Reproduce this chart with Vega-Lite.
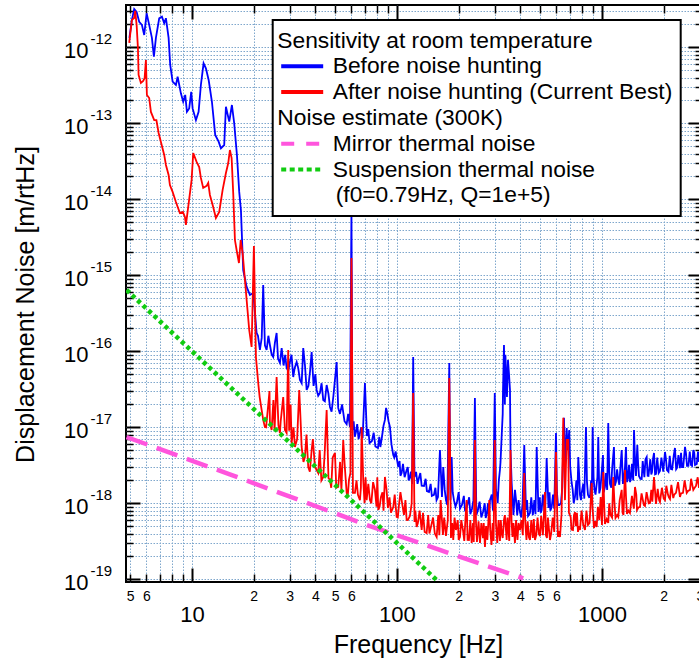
{
  "$schema": "https://vega.github.io/schema/vega-lite/v6.json",
  "width": 576,
  "height": 577,
  "autosize": "none",
  "padding": {"left": 126, "top": 5, "right": -3, "bottom": 80},
  "usermeta": {"embedOptions": {"actions": false}},
  "config": {
    "font": "Liberation Sans",
    "view": {"stroke": "black", "strokeWidth": 2},
    "axis": {"labelFont": "Liberation Sans", "titleFont": "Liberation Sans", "labelColor": "black", "titleColor": "black", "titleFontWeight": "normal"},
    "legend": {"strokeWidth": 2}
  },
  "datasets": {
    "before": [
      {"f":4.956,"v":1.33e-12},{"f":5.097,"v":2.29e-12},{"f":5.23,"v":3.19e-12},{"f":5.374,"v":2.91e-12},{"f":5.532,"v":2.17e-12},{"f":5.702,"v":1.97e-12},{"f":5.852,"v":1.45e-12},{"f":6.012,"v":2.8e-12},{"f":6.189,"v":1.97e-12},{"f":6.381,"v":1.33e-12},{"f":6.525,"v":7.52e-13},{"f":6.674,"v":1.33e-12},{"f":6.926,"v":2.41e-12},{"f":7.14,"v":2.53e-12},{"f":7.327,"v":2.07e-12},{"f":7.468,"v":2.41e-12},{"f":7.697,"v":1.33e-12},{"f":7.837,"v":5.85e-13},{"f":8.052,"v":3.53e-13},{"f":8.356,"v":3.19e-13},{"f":8.517,"v":4.1e-13},{"f":8.836,"v":2.48e-13},{"f":9.067,"v":1.92e-13},{"f":9.276,"v":2.36e-13},{"f":9.454,"v":1.42e-13},{"f":9.701,"v":1.57e-13},{"f":9.922,"v":2.6e-13},{"f":10.08,"v":1.57e-13},{"f":10.46,"v":1.1e-13},{"f":10.78,"v":1.42e-13},{"f":11.06,"v":3.19e-13},{"f":11.4,"v":6.16e-13},{"f":11.7,"v":5.29e-13},{"f":12.07,"v":3.71e-13},{"f":12.52,"v":1.92e-13},{"f":12.99,"v":7.02e-14},{"f":13.5,"v":5.73e-14},{"f":13.85,"v":4.69e-14},{"f":14.37,"v":5.18e-14},{"f":14.65,"v":1.65e-13},{"f":15.21,"v":1.05e-13},{"f":15.67,"v":1.74e-13},{"f":16.08,"v":1.0e-13},{"f":16.58,"v":3.83e-14},{"f":17.01,"v":1.25e-14},{"f":17.34,"v":7.23e-15},{"f":17.79,"v":1.17e-15},{"f":18.49,"v":7.02e-16},{"f":19.18,"v":5.51e-16},{"f":19.91,"v":5.85e-16},{"f":20.68,"v":1.74e-16},{"f":21.0,"v":1.6e-16},{"f":21.46,"v":1.04e-16},{"f":21.9,"v":1.5e-16},{"f":22.27,"v":7.45e-16},{"f":22.7,"v":1.2e-16},{"f":23.14,"v":1.04e-16},{"f":23.6,"v":1.6e-16},{"f":24.01,"v":1.21e-16},{"f":24.5,"v":9e-17},{"f":24.92,"v":8.41e-17},{"f":25.4,"v":1.3e-16},{"f":25.89,"v":1.74e-16},{"f":26.3,"v":8e-17},{"f":26.87,"v":7.02e-17},{"f":27.4,"v":1.1e-16},{"f":28.0,"v":6.5e-17},{"f":28.5,"v":9e-17},{"f":28.97,"v":6.03e-17},{"f":29.5,"v":5.5e-17},{"f":30.06,"v":7.23e-17},{"f":30.6,"v":9e-17},{"f":31.2,"v":4.59e-17},{"f":31.7,"v":6e-17},{"f":32.42,"v":7.23e-17},{"f":33.0,"v":6e-17},{"f":33.64,"v":4.19e-17},{"f":34.3,"v":3.8e-17},{"f":34.91,"v":1.1e-16},{"f":35.6,"v":6.5e-17},{"f":36.27,"v":3.1e-17},{"f":37.0,"v":3.5e-17},{"f":37.7,"v":5.5e-17},{"f":38.37,"v":9.79e-17},{"f":39.2,"v":3.5e-17},{"f":40.0,"v":5e-17},{"f":40.58,"v":3.1e-17},{"f":41.3,"v":2.6e-17},{"f":42.11,"v":2.83e-17},{"f":42.9,"v":3.8e-17},{"f":43.7,"v":2.29e-17},{"f":44.5,"v":2.2e-17},{"f":45.41,"v":3.6e-17},{"f":46.3,"v":2.8e-17},{"f":47.13,"v":1.85e-17},{"f":48.0,"v":1.6e-17},{"f":49.0,"v":2.6e-17},{"f":50.8,"v":7.23e-17},{"f":51.7,"v":1.8e-17},{"f":52.72,"v":1.5e-17},{"f":54.0,"v":2.0e-17},{"f":55.5,"v":1.2e-17},{"f":56.85,"v":1.1e-17},{"f":57.8,"v":1.5e-17},{"f":59.0,"v":1.01e-17},{"f":60.0,"v":7.23e-15},{"f":60.67,"v":9.21e-18},{"f":61.5,"v":1.2e-17},{"f":62.3,"v":7.5e-18},{"f":63.1,"v":8.67e-18},{"f":64.0,"v":1.1e-17},{"f":65.0,"v":7e-18},{"f":65.99,"v":8.41e-18},{"f":67.0,"v":1.0e-17},{"f":68.0,"v":7.2e-18},{"f":69.81,"v":3.83e-17},{"f":71.4,"v":7.68e-18},{"f":72.5,"v":9.5e-18},{"f":73.5,"v":6.2e-18},{"f":75.51,"v":6.6e-18},{"f":77.0,"v":8.5e-18},{"f":78.5,"v":5.6e-18},{"f":80.8,"v":5.34e-18},{"f":82.0,"v":7.5e-18},{"f":83.0,"v":5.5e-18},{"f":84.5,"v":7.45e-18},{"f":86.0,"v":1.05e-17},{"f":87.38,"v":1.25e-17},{"f":88.5,"v":1.8e-17},{"f":89.66,"v":1.54e-17},{"f":91.0,"v":1.2e-17},{"f":92.44,"v":1.01e-17},{"f":94.0,"v":6e-18},{"f":95.94,"v":4.32e-18},{"f":97.0,"v":4e-18},{"f":98.5,"v":4.8e-18},{"f":101.5,"v":3.0e-18},{"f":103,"v":3.6e-18},{"f":104,"v":2.3e-18},{"f":105.4,"v":2.5e-18},{"f":107,"v":3.3e-18},{"f":109,"v":2.2e-18},{"f":111.5,"v":2.74e-18},{"f":113,"v":3.0e-18},{"f":114,"v":2.0e-18},{"f":115.7,"v":2.22e-18},{"f":117,"v":2.6e-18},{"f":118.5,"v":1.8e-18},{"f":120.0,"v":8.41e-17},{"f":121.8,"v":2.22e-18},{"f":124,"v":2.6e-18},{"f":126,"v":1.8e-18},{"f":128.0,"v":2.15e-18},{"f":130,"v":2.5e-18},{"f":132,"v":1.7e-18},{"f":135.5,"v":1.69e-18},{"f":138,"v":2.1e-18},{"f":140,"v":1.45e-18},{"f":143.3,"v":1.41e-18},{"f":146,"v":1.8e-18},{"f":148,"v":1.25e-18},{"f":151.5,"v":1.29e-18},{"f":154,"v":1.6e-18},{"f":156,"v":1.1e-18},{"f":158.5,"v":1.21e-18},{"f":162.1,"v":5.03e-18},{"f":165.8,"v":1.21e-18},{"f":168.2,"v":3.0e-18},{"f":171,"v":1.5e-18},{"f":173.4,"v":1.1e-18},{"f":176,"v":9.5e-19},{"f":180.0,"v":7.02e-17},{"f":182.4,"v":1.1e-18},{"f":184.9,"v":4.06e-18},{"f":187,"v":1.4e-18},{"f":189.7,"v":1.1e-18},{"f":193,"v":9e-19},{"f":196.2,"v":1.04e-18},{"f":200,"v":1.4e-18},{"f":203,"v":8.5e-19},{"f":207.5,"v":9.5e-19},{"f":212,"v":1.25e-18},{"f":215,"v":7.8e-19},{"f":219.5,"v":8.94e-19},{"f":225,"v":1.2e-18},{"f":228,"v":7.2e-19},{"f":232.2,"v":8.41e-19},{"f":236,"v":1.1e-18},{"f":240.0,"v":2.43e-17},{"f":244,"v":7e-19},{"f":248.4,"v":8.16e-19},{"f":253,"v":1.05e-18},{"f":258,"v":6.5e-19},{"f":262.8,"v":7.68e-19},{"f":268,"v":1.0e-18},{"f":271,"v":6.4e-19},{"f":274.8,"v":7.45e-19},{"f":278,"v":1.0e-18},{"f":281,"v":6.5e-19},{"f":284.2,"v":1.1e-18},{"f":290,"v":1.3e-18},{"f":294,"v":8e-19},{"f":300.0,"v":2.83e-17},{"f":304,"v":1.5e-18},{"f":307.5,"v":1.25e-18},{"f":310,"v":1.0e-18},{"f":314,"v":2.0e-18},{"f":317.9,"v":2.74e-18},{"f":320,"v":3.5e-18},{"f":325.2,"v":9.21e-18},{"f":328,"v":1.5e-17},{"f":329,"v":3e-17},{"f":332.7,"v":1.21e-16},{"f":336,"v":2e-17},{"f":338,"v":9e-17},{"f":340.2,"v":6.03e-17},{"f":344,"v":2.5e-17},{"f":348.0,"v":7.68e-17},{"f":352,"v":5e-17},{"f":355.9,"v":3.1e-17},{"f":358,"v":5e-18},{"f":362.7,"v":1.85e-18},{"f":366,"v":1.2e-18},{"f":370,"v":7e-19},{"f":376.4,"v":1.5e-18},{"f":381,"v":1.1e-18},{"f":386,"v":7e-19},{"f":392,"v":1.1e-18},{"f":398.1,"v":7.68e-19},{"f":404,"v":6.5e-19},{"f":410,"v":1.0e-18},{"f":417.8,"v":5.85e-18},{"f":425.9,"v":8.16e-19},{"f":431,"v":1.1e-18},{"f":436,"v":6.8e-19},{"f":445.5,"v":7.45e-19},{"f":452,"v":1.2e-18},{"f":460,"v":7e-19},{"f":468,"v":1.1e-18},{"f":474,"v":7.2e-19},{"f":480.4,"v":5.51e-18},{"f":490.1,"v":7.68e-19},{"f":497,"v":1.2e-18},{"f":503,"v":7.5e-19},{"f":508.1,"v":8.16e-19},{"f":515,"v":1.3e-18},{"f":526,"v":7.5e-19},{"f":531,"v":1.2e-18},{"f":537.3,"v":3.94e-18},{"f":548.3,"v":8.67e-19},{"f":555,"v":1.4e-18},{"f":560,"v":8e-19},{"f":568.4,"v":8.94e-19},{"f":577,"v":1.3e-18},{"f":585,"v":8.5e-19},{"f":596.6,"v":8.41e-18},{"f":603,"v":1.4e-18},{"f":610.2,"v":9.5e-19},{"f":620,"v":9.5e-19},{"f":631.0,"v":1.01e-18},{"f":640,"v":1.6e-18},{"f":652.6,"v":1.33e-17},{"f":660,"v":3e-18},{"f":672.7,"v":9.79e-18},{"f":680,"v":5e-18},{"f":692.7,"v":9.21e-18},{"f":700,"v":3e-18},{"f":711.6,"v":1.85e-18},{"f":720,"v":1.5e-18},{"f":728,"v":1.0e-18},{"f":738.5,"v":1.21e-18},{"f":750,"v":2.0e-18},{"f":758,"v":1.1e-18},{"f":766.4,"v":4.06e-18},{"f":775,"v":2.2e-18},{"f":781.1,"v":1.29e-18},{"f":790,"v":1.1e-18},{"f":796.2,"v":1.37e-18},{"f":810,"v":1.8e-18},{"f":820,"v":1.15e-18},{"f":835.6,"v":1.01e-17},{"f":845,"v":1.9e-18},{"f":854.6,"v":1.29e-18},{"f":865,"v":1.2e-18},{"f":873.9,"v":1.21e-18},{"f":885,"v":2.0e-18},{"f":892,"v":1.3e-18},{"f":900.8,"v":1.01e-17},{"f":910,"v":2.2e-18},{"f":919.3,"v":1.5e-18},{"f":930,"v":1.3e-18},{"f":950,"v":2.2e-18},{"f":959.4,"v":7.45e-18},{"f":970,"v":1.35e-18},{"f":983.3,"v":1.59e-18},{"f":995,"v":2.4e-18},{"f":1011,"v":4.32e-18},{"f":1020,"v":1.4e-18},{"f":1034,"v":1.64e-18},{"f":1045,"v":2.5e-18},{"f":1060,"v":1.5e-18},{"f":1073,"v":1.14e-17},{"f":1085,"v":2.6e-18},{"f":1094,"v":1.8e-18},{"f":1110,"v":1.6e-18},{"f":1120,"v":2.8e-18},{"f":1144,"v":5.51e-18},{"f":1155,"v":1.7e-18},{"f":1170,"v":1.91e-18},{"f":1185,"v":2.8e-18},{"f":1201,"v":2.03e-18},{"f":1215,"v":1.75e-18},{"f":1230,"v":3.0e-18},{"f":1248,"v":5.03e-18},{"f":1265,"v":1.8e-18},{"f":1280,"v":2.15e-18},{"f":1295,"v":3.0e-18},{"f":1309,"v":5.51e-18},{"f":1325,"v":1.9e-18},{"f":1339,"v":2.15e-18},{"f":1355,"v":3.2e-18},{"f":1370,"v":1.9e-18},{"f":1385,"v":2.15e-18},{"f":1400,"v":3.3e-18},{"f":1420,"v":2.0e-18},{"f":1433,"v":9.21e-18},{"f":1450,"v":3.5e-18},{"f":1465,"v":2.29e-18},{"f":1487,"v":5.85e-18},{"f":1500,"v":3.4e-18},{"f":1515,"v":2.29e-18},{"f":1540,"v":2.1e-18},{"f":1562,"v":2.09e-18},{"f":1580,"v":3.6e-18},{"f":1610,"v":2.2e-18},{"f":1630,"v":3.8e-18},{"f":1652,"v":4.06e-18},{"f":1670,"v":2.3e-18},{"f":1686,"v":2.29e-18},{"f":1720,"v":3.8e-18},{"f":1740,"v":2.4e-18},{"f":1754,"v":2.58e-18},{"f":1775,"v":3.9e-18},{"f":1794,"v":4.59e-18},{"f":1815,"v":2.4e-18},{"f":1834,"v":2.43e-18},{"f":1860,"v":4.0e-18},{"f":1890,"v":2.5e-18},{"f":1918,"v":2.66e-18},{"f":1950,"v":4.0e-18},{"f":1990,"v":2.6e-18},{"f":2029,"v":4.73e-18},{"f":2050,"v":3.9e-18},{"f":2075,"v":2.74e-18},{"f":2110,"v":2.6e-18},{"f":2140,"v":4.2e-18},{"f":2171,"v":2.83e-18},{"f":2200,"v":2.8e-18},{"f":2240,"v":4.3e-18},{"f":2270,"v":5.34e-18},{"f":2300,"v":2.8e-18},{"f":2322,"v":2.91e-18},{"f":2360,"v":4.3e-18},{"f":2400,"v":2.9e-18},{"f":2430,"v":4.6e-18},{"f":2456,"v":3.0e-18},{"f":2490,"v":3.0e-18},{"f":2541,"v":5.51e-18},{"f":2570,"v":4.5e-18},{"f":2598,"v":3.1e-18},{"f":2640,"v":3.1e-18},{"f":2680,"v":4.8e-18},{"f":2717,"v":3.19e-18},{"f":2750,"v":3.1e-18},{"f":2789,"v":5.03e-18},{"f":2820,"v":4.6e-18},{"f":2843,"v":3.19e-18},{"f":2900,"v":3.3e-18},{"f":2940,"v":4.8e-18},{"f":2973,"v":3.49e-18}
    ],
    "after": [
      {"f":4.944,"v":1.14e-12},{"f":5.097,"v":2.29e-12},{"f":5.23,"v":2.43e-12},{"f":5.29,"v":3.01e-12},{"f":5.374,"v":1.97e-12},{"f":5.454,"v":9.79e-13},{"f":5.495,"v":4.32e-13},{"f":5.638,"v":3.39e-13},{"f":5.786,"v":3.6e-13},{"f":5.879,"v":3.94e-13},{"f":5.965,"v":6.81e-13},{"f":6.032,"v":2.36e-13},{"f":6.189,"v":2.15e-13},{"f":6.31,"v":1.41e-13},{"f":6.548,"v":1.1e-13},{"f":6.711,"v":1.1e-13},{"f":6.88,"v":7.45e-14},{"f":7.06,"v":5.68e-14},{"f":7.327,"v":3.83e-14},{"f":7.468,"v":2.83e-14},{"f":7.697,"v":2.09e-14},{"f":7.811,"v":1.54e-14},{"f":8.052,"v":1.25e-14},{"f":8.356,"v":9.21e-15},{"f":8.738,"v":6.6e-15},{"f":9.036,"v":6.81e-15},{"f":9.245,"v":5.85e-15},{"f":9.349,"v":4.59e-15},{"f":9.594,"v":7.92e-15},{"f":9.966,"v":1.8e-14},{"f":10.15,"v":4.06e-14},{"f":10.54,"v":3.1e-14},{"f":10.85,"v":2.66e-14},{"f":11.06,"v":1.91e-14},{"f":11.35,"v":1.41e-14},{"f":11.8,"v":1.5e-14},{"f":12.01,"v":1.64e-14},{"f":12.24,"v":1.14e-14},{"f":12.7,"v":7.92e-15},{"f":13.09,"v":5.68e-15},{"f":13.59,"v":6.81e-15},{"f":14.12,"v":1.33e-14},{"f":14.65,"v":2.22e-14},{"f":15.04,"v":3.0e-14},{"f":15.32,"v":4.45e-14},{"f":15.62,"v":3.49e-14},{"f":15.9,"v":1.21e-14},{"f":16.21,"v":2.91e-15},{"f":16.52,"v":2.15e-15},{"f":16.96,"v":1.45e-15},{"f":17.29,"v":2.91e-15},{"f":17.68,"v":1.96e-15},{"f":18.14,"v":8.67e-16},{"f":18.49,"v":4.73e-16},{"f":19.03,"v":1.91e-16},{"f":19.55,"v":1.14e-16},{"f":20.06,"v":2.43e-15},{"f":20.52,"v":8.41e-17},{"f":21.06,"v":3.83e-17},{"f":21.4,"v":2.5e-17},{"f":21.88,"v":1.69e-17},{"f":22.27,"v":1.25e-17},{"f":22.7,"v":1.01e-17},{"f":23.0,"v":1.0e-17},{"f":23.56,"v":1.96e-17},{"f":23.9,"v":3.0e-17},{"f":24.01,"v":1.14e-17},{"f":24.48,"v":9.21e-18},{"f":24.97,"v":2.29e-17},{"f":25.3,"v":9e-18},{"f":25.89,"v":4.59e-17},{"f":26.42,"v":1.07e-17},{"f":26.87,"v":8.41e-18},{"f":27.1,"v":1.2e-17},{"f":27.88,"v":2.5e-17},{"f":28.42,"v":9.21e-18},{"f":28.97,"v":8.41e-18},{"f":29.49,"v":1.04e-16},{"f":29.8,"v":9e-18},{"f":30.3,"v":2.0e-17},{"f":30.64,"v":6.21e-18},{"f":31.3,"v":1.0e-17},{"f":31.8,"v":5.51e-18},{"f":32.6,"v":7e-18},{"f":33.38,"v":3.1e-17},{"f":33.9,"v":1.2e-17},{"f":34.29,"v":5.51e-18},{"f":35.0,"v":3.5e-18},{"f":35.58,"v":4.06e-18},{"f":36.2,"v":8e-18},{"f":36.93,"v":3.0e-18},{"f":37.6,"v":2.6e-18},{"f":38.37,"v":5.03e-18},{"f":38.9,"v":7e-18},{"f":39.81,"v":3.0e-18},{"f":40.4,"v":2.8e-18},{"f":41.31,"v":2.5e-18},{"f":42.0,"v":5e-18},{"f":42.8,"v":2.0e-18},{"f":43.7,"v":2.22e-18},{"f":44.4,"v":4.5e-18},{"f":45.41,"v":1.69e-17},{"f":46.34,"v":2.15e-18},{"f":47.13,"v":2.03e-18},{"f":47.8,"v":1.6e-18},{"f":48.6,"v":4e-18},{"f":49.85,"v":4.59e-18},{"f":50.6,"v":1.6e-18},{"f":51.73,"v":1.64e-18},{"f":52.8,"v":3.5e-18},{"f":53.6,"v":1.5e-18},{"f":54.7,"v":6.81e-18},{"f":55.6,"v":3.2e-18},{"f":56.85,"v":1.37e-18},{"f":57.5,"v":1.2e-18},{"f":58.34,"v":2.03e-18},{"f":59.3,"v":2.5e-18},{"f":60.0,"v":1.69e-15},{"f":61.01,"v":1.37e-18},{"f":62.39,"v":1.37e-18},{"f":63.5,"v":2.0e-18},{"f":64.53,"v":1.29e-18},{"f":65.99,"v":1.1e-18},{"f":66.7,"v":1.6e-18},{"f":67.27,"v":1.01e-17},{"f":68.49,"v":2.03e-18},{"f":69.5,"v":1.0e-18},{"f":70.3,"v":2.2e-18},{"f":71.16,"v":1.1e-18},{"f":72.5,"v":1.8e-18},{"f":73.85,"v":1.1e-18},{"f":75,"v":1.0e-18},{"f":76.5,"v":1.9e-18},{"f":78.11,"v":1.5e-18},{"f":79.5,"v":9e-19},{"f":80.2,"v":2.2e-18},{"f":81.08,"v":8.16e-19},{"f":82.3,"v":9e-19},{"f":83.56,"v":1.21e-18},{"f":85,"v":1.4e-18},{"f":86,"v":8e-19},{"f":87.38,"v":2.22e-18},{"f":89,"v":1.5e-18},{"f":90.36,"v":8.67e-19},{"f":92,"v":1.2e-18},{"f":93.5,"v":7.5e-19},{"f":95.94,"v":8.94e-19},{"f":97.5,"v":1.3e-18},{"f":99.66,"v":6.6e-19},{"f":101,"v":6.5e-19},{"f":102.3,"v":9.5e-19},{"f":104,"v":1.4e-18},{"f":105.4,"v":1.1e-18},{"f":107,"v":8.5e-19},{"f":108.2,"v":7.02e-19},{"f":110,"v":1.1e-18},{"f":111.5,"v":6.03e-19},{"f":113,"v":6e-19},{"f":115.7,"v":6.81e-19},{"f":118,"v":1.0e-18},{"f":120.0,"v":2.83e-17},{"f":121.8,"v":5.68e-19},{"f":123,"v":8e-19},{"f":124.8,"v":4.88e-19},{"f":126.5,"v":5.5e-19},{"f":129,"v":8e-19},{"f":132.0,"v":4.45e-19},{"f":134,"v":7.5e-19},{"f":136.5,"v":4.2e-19},{"f":139.6,"v":4.06e-19},{"f":142,"v":7e-19},{"f":144,"v":4e-19},{"f":146.5,"v":4.88e-19},{"f":150,"v":6.5e-19},{"f":153,"v":4e-19},{"f":156.2,"v":3.6e-19},{"f":159,"v":7e-19},{"f":161,"v":3.8e-19},{"f":163.4,"v":1.1e-18},{"f":167.6,"v":3.83e-19},{"f":170,"v":6.5e-19},{"f":173.4,"v":3.71e-19},{"f":177,"v":6e-19},{"f":180.0,"v":4.45e-17},{"f":183.4,"v":3.49e-19},{"f":186,"v":5.5e-19},{"f":188.2,"v":3.29e-19},{"f":191,"v":6.5e-19},{"f":194.0,"v":4.45e-19},{"f":198,"v":6e-19},{"f":200,"v":3.3e-19},{"f":202.9,"v":3.6e-19},{"f":206,"v":6e-19},{"f":209.9,"v":4.45e-19},{"f":213,"v":3.2e-19},{"f":216,"v":6.5e-19},{"f":218.8,"v":1.1e-18},{"f":221,"v":3.3e-19},{"f":224.5,"v":3.29e-19},{"f":228,"v":6e-19},{"f":231.4,"v":3.0e-19},{"f":235,"v":5.5e-19},{"f":237,"v":3.1e-19},{"f":240.0,"v":6.81e-18},{"f":243,"v":5.5e-19},{"f":245.6,"v":3.1e-19},{"f":250,"v":5.8e-19},{"f":254.1,"v":3.0e-19},{"f":258,"v":5.5e-19},{"f":262.8,"v":3.49e-19},{"f":265,"v":5.5e-19},{"f":268.7,"v":2.66e-19},{"f":272,"v":5e-19},{"f":276,"v":3.3e-19},{"f":279,"v":5.5e-19},{"f":282.0,"v":1.1e-18},{"f":285,"v":4.5e-19},{"f":289.1,"v":2.83e-19},{"f":293,"v":5.5e-19},{"f":296,"v":3.2e-19},{"f":300.0,"v":6.81e-18},{"f":304,"v":5.5e-19},{"f":308.5,"v":3.0e-19},{"f":313,"v":6e-19},{"f":318,"v":3.2e-19},{"f":321,"v":6e-19},{"f":324.1,"v":4.06e-19},{"f":328,"v":3.5e-19},{"f":332.7,"v":6.03e-19},{"f":336,"v":7e-19},{"f":342.9,"v":3.29e-19},{"f":346,"v":6.5e-19},{"f":349.9,"v":4.45e-19},{"f":353,"v":3.2e-19},{"f":357.9,"v":5.03e-18},{"f":362,"v":6e-19},{"f":366.0,"v":3.6e-19},{"f":370,"v":5.5e-19},{"f":376.4,"v":3.0e-19},{"f":381,"v":6e-19},{"f":387.1,"v":3.29e-19},{"f":392,"v":5.5e-19},{"f":398.1,"v":4.45e-19},{"f":405,"v":6e-19},{"f":411,"v":3.8e-19},{"f":417.8,"v":2.5e-18},{"f":422,"v":6e-19},{"f":428.3,"v":3.29e-19},{"f":434,"v":5.8e-19},{"f":440,"v":3.6e-19},{"f":445.5,"v":3.29e-19},{"f":452,"v":6e-19},{"f":460,"v":3.5e-19},{"f":465,"v":6.2e-19},{"f":471.3,"v":3.29e-19},{"f":478,"v":3.8e-19},{"f":485,"v":6.5e-19},{"f":492,"v":4e-19},{"f":498.5,"v":3.71e-19},{"f":505,"v":6.8e-19},{"f":515,"v":3.8e-19},{"f":520,"v":6.5e-19},{"f":527.2,"v":1.41e-18},{"f":533,"v":3.8e-19},{"f":539.1,"v":3.49e-19},{"f":545,"v":6.5e-19},{"f":557.6,"v":3.29e-19},{"f":565,"v":4e-19},{"f":575,"v":6.5e-19},{"f":585,"v":4.2e-19},{"f":596.6,"v":4.73e-18},{"f":605,"v":7e-19},{"f":610.2,"v":3.6e-19},{"f":615,"v":4.3e-19},{"f":624.0,"v":3.6e-19},{"f":635,"v":7.2e-19},{"f":647.5,"v":1.33e-17},{"f":660.0,"v":1.1e-18},{"f":672.7,"v":6.81e-18},{"f":684.9,"v":6.81e-18},{"f":690,"v":7.5e-19},{"f":703.6,"v":6.6e-19},{"f":710,"v":4.5e-19},{"f":722.1,"v":4.45e-19},{"f":730,"v":7e-19},{"f":738.5,"v":7.68e-19},{"f":745,"v":5e-19},{"f":755,"v":7.5e-19},{"f":763.8,"v":4.19e-19},{"f":770,"v":5e-19},{"f":781.1,"v":4.45e-19},{"f":795,"v":8e-19},{"f":810,"v":5.2e-19},{"f":826.3,"v":4.45e-19},{"f":840,"v":8e-19},{"f":854.6,"v":5.18e-19},{"f":870,"v":5.5e-19},{"f":890.8,"v":1.85e-18},{"f":900,"v":8.5e-19},{"f":914.1,"v":4.73e-19},{"f":925,"v":5.8e-19},{"f":942.2,"v":4.88e-19},{"f":955,"v":9e-19},{"f":970,"v":6e-19},{"f":985.6,"v":1.21e-18},{"f":1000,"v":5.18e-19},{"f":1015,"v":2.58e-18},{"f":1025,"v":9.5e-19},{"f":1034,"v":5.34e-19},{"f":1055,"v":6.2e-19},{"f":1073,"v":5.51e-19},{"f":1085,"v":1.0e-18},{"f":1100,"v":7.02e-19},{"f":1120,"v":6.5e-19},{"f":1135,"v":2.22e-18},{"f":1150,"v":1.05e-18},{"f":1164,"v":6.41e-19},{"f":1185,"v":7e-19},{"f":1201,"v":6.6e-19},{"f":1220,"v":1.1e-18},{"f":1248,"v":1.5e-18},{"f":1260,"v":7.5e-19},{"f":1273,"v":7.02e-19},{"f":1295,"v":2.74e-18},{"f":1310,"v":1.2e-18},{"f":1324,"v":7.23e-19},{"f":1345,"v":8e-19},{"f":1369,"v":7.45e-19},{"f":1400,"v":1.25e-18},{"f":1430,"v":8.5e-19},{"f":1449,"v":1.64e-18},{"f":1470,"v":1.3e-18},{"f":1482,"v":8.16e-19},{"f":1505,"v":8.8e-19},{"f":1532,"v":8.94e-19},{"f":1560,"v":1.35e-18},{"f":1600,"v":9.5e-19},{"f":1621,"v":9.21e-19},{"f":1650,"v":1.4e-18},{"f":1690,"v":1.0e-18},{"f":1715,"v":1.01e-18},{"f":1740,"v":1.5e-18},{"f":1760,"v":1.05e-18},{"f":1794,"v":2.22e-18},{"f":1834,"v":9.79e-19},{"f":1870,"v":1.55e-18},{"f":1900,"v":1.1e-18},{"f":1918,"v":1.04e-18},{"f":1960,"v":1.6e-18},{"f":2000,"v":1.15e-18},{"f":2029,"v":1.1e-18},{"f":2060,"v":1.7e-18},{"f":2099,"v":1.29e-18},{"f":2120,"v":1.2e-18},{"f":2146,"v":1.14e-18},{"f":2180,"v":1.75e-18},{"f":2227,"v":1.17e-18},{"f":2250,"v":1.3e-18},{"f":2296,"v":1.37e-18},{"f":2350,"v":1.9e-18},{"f":2401,"v":1.21e-18},{"f":2430,"v":1.35e-18},{"f":2484,"v":1.37e-18},{"f":2530,"v":2.0e-18},{"f":2590,"v":1.37e-18},{"f":2630,"v":1.45e-18},{"f":2687,"v":1.5e-18},{"f":2720,"v":2.1e-18},{"f":2789,"v":1.5e-18},{"f":2830,"v":1.6e-18},{"f":2874,"v":1.69e-18},{"f":2930,"v":2.2e-18},{"f":2973,"v":1.59e-18}
    ],
    "mirror": [
      {"f":4.8,"v":7.45e-18},{"f":15.3,"v":2.4e-18},{"f":71,"v":5.2e-19},{"f":413,"v":1.03e-19}
    ],
    "susp": [
      {"f":4.8,"v":6.4e-16},{"f":15.3,"v":3.43e-17},{"f":50,"v":1.73e-18},{"f":156,"v":9.8e-20}
    ]
  },
  "resolve": {"axis": {"x": "independent", "y": "independent"}},
  "layer": [
    {
      "data": {"name": "before"},
      "mark": {"type": "line", "strokeWidth": 1.8, "clip": true},
      "encoding": {
        "x": {"field": "f", "type": "quantitative",
          "scale": {"type": "log", "domain": [4.77, 3075], "nice": false},
          "axis": {"orient": "bottom", "values": [5,6,10,20,30,40,50,60,100,200,300,400,500,600,1000,2000,3000],
            "ticks": false, "domain": false, "grid": false, "labelOverlap": false, "labelFlush": false,
            "labelExpr": "indexof([10,100,1000], datum.value) >= 0 ? '' + datum.value : substring('' + datum.value, 0, 1)",
            "labelFontSize": {"condition": {"test": "indexof([10,100,1000], datum.value) >= 0", "value": 22}, "value": 14},
            "labelPadding": {"condition": {"test": "indexof([10,100,1000], datum.value) >= 0", "value": 39.5}, "value": 18.5},
            "labelBaseline": "alphabetic",
            "title": "Frequency [Hz]", "titleFontSize": 25, "titleX": 292, "titleY": 70, "titleBaseline": "alphabetic", "titleAlign": "center", "titleAnchor": null}},
        "y": {"field": "v", "type": "quantitative",
          "scale": {"type": "log", "domain": [9.21e-20, 3.6e-12], "nice": false},
          "axis": {"orient": "left", "values": [1e-19,1e-18,1e-17,1e-16,1e-15,1e-14,1e-13,1e-12],
            "ticks": false, "domain": false, "grid": false, "labelOverlap": false,
            "labelExpr": "'10'", "labelAlign": "right", "labelBaseline": "middle", "labelPadding": 38, "labelOffset": 3, "labelFontSize": 22,
            "title": "Displacement Noise [m/rtHz]", "titleFontSize": 25, "titleAngle": -90, "titleX": -93, "titleY": 299, "titleBaseline": "alphabetic", "titleAlign": "center", "titleAnchor": null}},
        "color": {"datum": "Before noise hunting", "type": "nominal",
          "scale": {"domain": ["Sensitivity at room temperature", "Before noise hunting", "After noise hunting (Current Best)", "Noise estimate (300K)", "Mirror thermal noise", "Suspension thermal noise", "(f0=0.79Hz, Q=1e+5)"],
                    "range": ["transparent", "#0000ff", "#ff0000", "transparent", "#ff55dd", "#11cc11", "transparent"]},
          "legend": {"orient": "none", "legendX": 146.7, "legendY": 15, "title": null,
            "symbolType": "M-2,0H2", "symbolSize": 441, "symbolStrokeWidth": 4, "symbolOffset": 9,
            "labelFontSize": 22.8, "labelFont": "Liberation Sans", "labelColor": "black", "labelLimit": 600, "labelOffset": 18, "labelBaseline": "middle",
            "rowPadding": 0.8, "padding": 8, "strokeColor": "black", "fillColor": "white",
            "encode": {
              "symbols": {"update": {"strokeDash": {"signal": "datum.value === 'Mirror thermal noise' ? [13,12] : datum.value === 'Suspension thermal noise' ? [5,3.5] : [1,0]"}}},
              "labels": {"update": {"dx": {"signal": "datum.value === 'Sensitivity at room temperature' || datum.value === 'Noise estimate (300K)' ? -55.4 : datum.value === '(f0=0.79Hz, Q=1e+5)' ? 3 : 0"}}}
            }}}
      }
    },
    {
      "data": {"name": "after"},
      "mark": {"type": "line", "strokeWidth": 1.8, "clip": true},
      "encoding": {
        "x": {"field": "f", "type": "quantitative",
          "axis": {"orient": "bottom", "values": [5,6,7,8,9,10,20,30,40,50,60,70,80,90,100,200,300,400,500,600,700,800,900,1000,2000,3000],
            "labels": false, "domain": false, "ticks": true, "tickColor": "black",
            "tickSize": {"condition": {"test": "indexof([10,100,1000], datum.value) >= 0", "value": -14}, "value": -8},
            "tickWidth": {"condition": {"test": "indexof([10,100,1000], datum.value) >= 0", "value": 2}, "value": 1.5},
            "grid": true, "gridColor": "#7fa7cc", "gridDash": [1.5, 1.5], "gridWidth": 1, "title": null}},
        "y": {"field": "v", "type": "quantitative",
          "axis": {"orient": "left", "values": [1e-19,1e-18,1e-17,1e-16,1e-15,1e-14,1e-13,1e-12],
            "ticks": false, "domain": false, "grid": false, "labelOverlap": false,
            "labelExpr": "'-' + round(-log(datum.value) / LN10)", "labelAlign": "left", "labelBaseline": "middle", "labelPadding": 36, "labelOffset": -8.5, "labelFontSize": 15,
            "title": null}},
        "color": {"datum": "After noise hunting (Current Best)", "type": "nominal"}
      }
    },
    {
      "data": {"name": "mirror"},
      "mark": {"type": "line", "strokeWidth": 4.5, "strokeDash": [22, 10], "clip": true},
      "encoding": {
        "x": {"field": "f", "type": "quantitative",
          "axis": {"orient": "top", "values": [5,6,7,8,9,10,20,30,40,50,60,70,80,90,100,200,300,400,500,600,700,800,900,1000,2000,3000],
            "labels": false, "domain": false, "ticks": true, "tickColor": "black", "grid": false,
            "tickSize": {"condition": {"test": "indexof([10,100,1000], datum.value) >= 0", "value": -14}, "value": -8},
            "tickWidth": {"condition": {"test": "indexof([10,100,1000], datum.value) >= 0", "value": 2}, "value": 1.5},
            "title": null}},
        "y": {"field": "v", "type": "quantitative",
          "axis": {"orient": "left", "values": [1e-19,2e-19,3e-19,4e-19,5e-19,6e-19,7e-19,8e-19,9e-19,1e-18,2e-18,3e-18,4e-18,5e-18,6e-18,7e-18,8e-18,9e-18,1e-17,2e-17,3e-17,4e-17,5e-17,6e-17,7e-17,8e-17,9e-17,1e-16,2e-16,3e-16,4e-16,5e-16,6e-16,7e-16,8e-16,9e-16,1e-15,2e-15,3e-15,4e-15,5e-15,6e-15,7e-15,8e-15,9e-15,1e-14,2e-14,3e-14,4e-14,5e-14,6e-14,7e-14,8e-14,9e-14,1e-13,2e-13,3e-13,4e-13,5e-13,6e-13,7e-13,8e-13,9e-13,1e-12,2e-12,3e-12],
            "labels": false, "domain": false, "ticks": true, "tickColor": "black",
            "tickSize": {"condition": {"test": "abs(log(datum.value)/LN10 - round(log(datum.value)/LN10)) < 0.01", "value": -14}, "value": -7},
            "tickWidth": {"condition": {"test": "abs(log(datum.value)/LN10 - round(log(datum.value)/LN10)) < 0.01", "value": 2}, "value": 1.5},
            "grid": true, "gridColor": "#7fa7cc", "gridDash": [1.5, 1.5], "gridWidth": 1, "title": null}},
        "color": {"datum": "Mirror thermal noise", "type": "nominal"}
      }
    },
    {
      "data": {"name": "susp"},
      "mark": {"type": "line", "strokeWidth": 4.5, "strokeDash": [4, 3.5], "clip": true},
      "encoding": {
        "x": {"field": "f", "type": "quantitative", "axis": null},
        "y": {"field": "v", "type": "quantitative",
          "axis": {"orient": "right", "values": [1e-19,2e-19,3e-19,4e-19,5e-19,6e-19,7e-19,8e-19,9e-19,1e-18,2e-18,3e-18,4e-18,5e-18,6e-18,7e-18,8e-18,9e-18,1e-17,2e-17,3e-17,4e-17,5e-17,6e-17,7e-17,8e-17,9e-17,1e-16,2e-16,3e-16,4e-16,5e-16,6e-16,7e-16,8e-16,9e-16,1e-15,2e-15,3e-15,4e-15,5e-15,6e-15,7e-15,8e-15,9e-15,1e-14,2e-14,3e-14,4e-14,5e-14,6e-14,7e-14,8e-14,9e-14,1e-13,2e-13,3e-13,4e-13,5e-13,6e-13,7e-13,8e-13,9e-13,1e-12,2e-12,3e-12],
            "labels": false, "domain": false, "ticks": true, "tickColor": "black", "grid": false,
            "tickSize": {"condition": {"test": "abs(log(datum.value)/LN10 - round(log(datum.value)/LN10)) < 0.01", "value": -14}, "value": -7},
            "tickWidth": {"condition": {"test": "abs(log(datum.value)/LN10 - round(log(datum.value)/LN10)) < 0.01", "value": 2}, "value": 1.5},
            "title": null}},
        "color": {"datum": "Suspension thermal noise", "type": "nominal"}
      }
    }
  ]
}
